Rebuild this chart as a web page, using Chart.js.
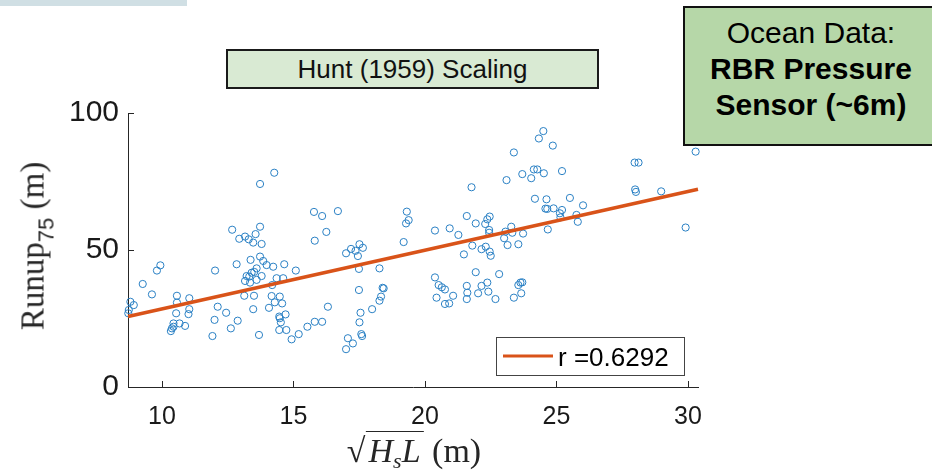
<!DOCTYPE html>
<html>
<head>
<meta charset="utf-8">
<script src="https://cdn.jsdelivr.net/npm/chart.js@4"></script>
<style>
  body { margin: 0; background: #fff; }
  #wrap { position: relative; width: 932px; height: 476px; overflow: hidden; font-family: "Liberation Sans", Arial, sans-serif; }
  #chart { position: absolute; left: 0; top: 0; }
  .topbar { position: absolute; left: 0; top: 0; width: 187px; height: 6px; background: #d0dfe4; }
  .title-box { position: absolute; left: 226px; top: 49px; width: 369px; height: 36px; border: 2px solid #1a1a1a;
    background: #d9ead3; font-size: 26px; line-height: 36px; text-align: center; color: #111; }
  .note-box { position: absolute; left: 683px; top: 6px; width: 252px; height: 129px; padding-top: 7px; border: 2px solid #111;
    background: #b6d7a8; font-size: 30px; line-height: 36px; text-align: center; color: #000; }
  .note-box b { font-weight: bold; }
  .ylab { position: absolute; left: 37px; top: 246px; transform: translate(-50%, -50%) rotate(-90deg); white-space: nowrap;
    font-family: "Liberation Serif", serif; font-size: 33px; color: #262626; }
  .ylab sub { font-family: "Liberation Sans", sans-serif; font-size: 22px; vertical-align: -10px; }
  .xlab { position: absolute; left: 414px; top: 432px; transform: translateX(-50%); white-space: nowrap;
    font-family: "Liberation Serif", serif; font-size: 34px; color: #262626; }
  .xlab .ov { border-top: 1.5px solid #262626; padding: 0 3px; }
  .xlab sub { font-size: 22px; font-style: italic; vertical-align: -6px; }
</style>
</head>
<body>
<div id="wrap">
  <canvas id="chart" width="932" height="476"></canvas>
  <div class="topbar"></div>
  <div class="title-box">Hunt (1959) Scaling</div>
  <div class="note-box">Ocean Data:<br><b>RBR Pressure</b><br><b>Sensor (~6m)</b></div>
  <div class="ylab">Runup<sub>75</sub> (m)</div>
  <div class="xlab"><span>√</span><span class="ov"><i>H</i><sub>s</sub><i>L</i></span>&nbsp;(m)</div>
</div>
<script>
// tick values
const xTicks = [10, 15, 20, 25, 30];
const yTicks = [0, 50, 100];

// sqrt(Hs L) values (m)
const hsL = [
  14.27, 13.73, 15.78, 15.81, 12.67, 12.94, 13.16, 13.30, 13.56, 13.73,
  13.47, 13.79, 13.37, 13.73, 13.85, 13.98, 14.23, 12.84, 12.02, 14.65,
  15.09, 13.60, 13.41, 13.22, 13.51, 13.32, 13.79, 13.60, 13.16, 13.35,
  14.36, 14.61, 14.19, 13.13, 13.50, 14.17, 14.48, 14.29, 14.57, 14.07,
  13.47, 14.70, 14.46, 14.48, 14.52, 14.46, 14.73, 13.69, 11.92, 12.00,
  12.12, 12.44, 12.62, 12.88, 14.93, 15.20, 15.53, 15.81, 9.27, 9.62,
  9.81, 9.94, 8.80, 8.93, 8.74, 8.72, 10.57, 10.57, 11.04, 11.04,
  11.01, 10.54, 10.44, 10.67, 10.88, 10.38, 10.34, 10.44,
  21.77, 16.09, 16.69, 16.25, 19.31, 19.38, 19.28, 19.19, 20.38, 20.94,
  21.27, 21.59, 21.93, 22.29, 22.37, 22.46, 22.44, 22.44, 21.80, 22.15,
  22.31, 22.46, 22.50, 21.48, 17.00, 17.19, 17.36, 17.51, 17.64, 17.45,
  17.49, 18.27, 17.49, 18.39, 18.43, 18.33, 18.27, 17.99, 17.55, 17.51,
  17.58, 17.61, 17.07, 17.26, 17.00, 16.31, 16.09, 20.38, 20.52, 20.64,
  20.76, 20.44, 20.76, 20.92, 21.07, 21.59, 21.61, 21.59, 22.02, 22.15,
  22.37, 22.41, 21.93, 22.68, 22.82,
  24.50, 24.33, 24.86, 23.38, 30.29, 27.97, 28.12, 24.14, 24.27, 25.21,
  23.70, 24.04, 24.52, 23.10, 27.99, 28.02, 28.98, 24.18, 24.62, 25.51,
  26.01, 24.58, 24.65, 24.89, 25.21, 25.13, 25.15, 25.76, 25.81, 24.67,
  29.91, 23.28, 23.06, 23.32, 23.73, 23.01, 23.14, 23.55, 23.63, 23.70,
  23.55, 23.66, 23.38
];

// Runup 75 values (m)
const runup = [
  78.2, 74.1, 63.9, 53.4, 57.4, 54.1, 54.9, 53.9, 55.8, 58.5,
  52.7, 52.2, 46.4, 47.6, 46.0, 44.5, 43.9, 44.8, 42.5, 44.8,
  42.5, 43.3, 41.7, 40.5, 42.0, 40.3, 40.5, 39.1, 38.7, 38.1,
  39.7, 39.7, 37.2, 33.3, 33.3, 33.2, 33.0, 30.9, 30.5, 28.9,
  28.4, 26.5, 25.7, 25.1, 23.6, 20.8, 20.8, 19.0, 18.6, 24.5,
  29.3, 27.1, 21.4, 24.2, 17.4, 19.3, 22.0, 23.8, 37.6, 33.8,
  42.5, 44.4, 31.1, 29.9, 28.1, 26.9, 33.3, 30.8, 32.4, 28.4,
  26.6, 26.9, 23.2, 23.2, 22.3, 21.4, 20.4, 22.0,
  72.9, 62.4, 64.2, 56.6, 64.0, 60.9, 59.7, 52.9, 57.1, 57.9,
  55.5, 62.4, 59.7, 59.5, 61.2, 62.2, 57.3, 56.3, 51.6, 50.3,
  51.2, 49.4, 47.9, 48.4, 48.8, 50.4, 49.7, 52.1, 50.8, 47.8,
  43.1, 43.3, 35.4, 36.2, 36.0, 33.0, 31.5, 28.4, 27.1, 23.6,
  19.3, 18.6, 17.8, 15.9, 13.8, 29.3, 23.8, 40.0, 37.2, 36.4,
  35.6, 32.6, 30.3, 30.5, 33.3, 36.9, 34.4, 32.1, 34.2, 36.9,
  38.1, 34.8, 41.9, 32.1, 41.2,
  93.4, 90.7, 88.1, 85.6, 85.9, 81.9, 81.9, 79.4, 79.4, 78.8,
  77.7, 76.2, 78.0, 75.5, 72.1, 71.2, 71.4, 68.7, 68.5, 69.0,
  66.3, 65.1, 65.0, 65.2, 64.6, 63.4, 61.9, 62.8, 60.3, 57.5,
  58.2, 58.5, 56.7, 56.3, 56.0, 54.3, 51.8, 52.1, 38.1, 38.2,
  37.2, 34.2, 32.6
];

// fitted line end points
const fitX = [8.71, 30.38];
const fitY = [25.7, 72.2];
const fitLabel = "r =0.6292";

const axisColor = "#262626";
const markerColor = "#2a80c4";
const fitColor = "#d95319";

// MATLAB style ticks pointing into the axes
const inwardTicks = {
  id: "inwardTicks",
  afterDraw(chart) {
    const { ctx, chartArea: a, scales: { x, y } } = chart;
    ctx.save();
    ctx.strokeStyle = axisColor;
    ctx.lineWidth = 1;
    ctx.beginPath();
    xTicks.forEach(v => {
      const px = Math.round(x.getPixelForValue(v)) + 0.5;
      ctx.moveTo(px, a.bottom);
      ctx.lineTo(px, a.bottom - 6);
    });
    yTicks.forEach(v => {
      const py = Math.round(y.getPixelForValue(v)) + 0.5;
      ctx.moveTo(a.left, py);
      ctx.lineTo(a.left + 6, py);
    });
    ctx.stroke();
    ctx.restore();
  }
};

// legend box in the lower right corner of the axes
const cornerLegend = {
  id: "cornerLegend",
  afterDraw(chart) {
    const ds = chart.data.datasets[0];
    const { ctx, chartArea: a } = chart;
    const w = 188, h = 38;
    const left = a.right - 14 - w, top = a.bottom - 50;
    ctx.save();
    ctx.fillStyle = "#fff";
    ctx.fillRect(left, top, w, h);
    ctx.strokeStyle = "#444";
    ctx.lineWidth = 1;
    ctx.strokeRect(left + 0.5, top + 0.5, w, h);
    ctx.strokeStyle = ds.borderColor;
    ctx.lineWidth = 3;
    ctx.beginPath();
    ctx.moveTo(left + 7, top + 19);
    ctx.lineTo(left + 57, top + 19);
    ctx.stroke();
    ctx.fillStyle = "#000";
    ctx.font = "26px 'Liberation Sans', Arial, sans-serif";
    ctx.textBaseline = "alphabetic";
    ctx.fillText(ds.label, left + 62, top + 29);
    ctx.restore();
  }
};

const ctx = document.getElementById("chart").getContext("2d");
new Chart(ctx, {
  type: "scatter",
  data: {
    datasets: [{
      type: "line",
      label: fitLabel,
      data: fitX.map((x, i) => ({ x: x, y: fitY[i] })),
      borderColor: fitColor,
      borderWidth: 3.5,
      pointRadius: 0,
      fill: false,
      clip: false,
      order: 0
    }, {
      label: "data",
      data: hsL.map((x, i) => ({ x: x, y: runup[i] })),
      pointStyle: "circle",
      pointRadius: 3.6,
      pointBorderWidth: 1,
      pointBorderColor: markerColor,
      pointBackgroundColor: "rgba(0,0,0,0)",
      clip: false,
      order: 1
    }]
  },
  options: {
    responsive: false,
    animation: false,
    layout: { padding: { top: 113, right: 234, left: 0, bottom: 0 } },
    plugins: { legend: { display: false }, tooltip: { enabled: false } },
    scales: {
      x: {
        type: "linear",
        min: 8.71,
        max: 30.38,
        afterBuildTicks: s => { s.ticks = xTicks.map(v => ({ value: v })); },
        afterFit: s => { s.height = 89; },
        grid: { display: false, drawTicks: false },
        border: { display: true, color: axisColor, width: 1 },
        ticks: { font: { family: "'Liberation Sans', Arial", size: 25 }, color: "#1a1a1a", padding: 15, maxRotation: 0 }
      },
      y: {
        min: 0,
        max: 100,
        afterBuildTicks: s => { s.ticks = yTicks.map(v => ({ value: v })); },
        afterFit: s => { s.width = 128; },
        grid: { display: false, drawTicks: false },
        border: { display: true, color: axisColor, width: 1 },
        ticks: { font: { family: "'Liberation Sans', Arial", size: 30 }, color: "#1a1a1a", padding: 9 }
      }
    }
  },
  plugins: [inwardTicks, cornerLegend]
});
</script>
</body>
</html>
